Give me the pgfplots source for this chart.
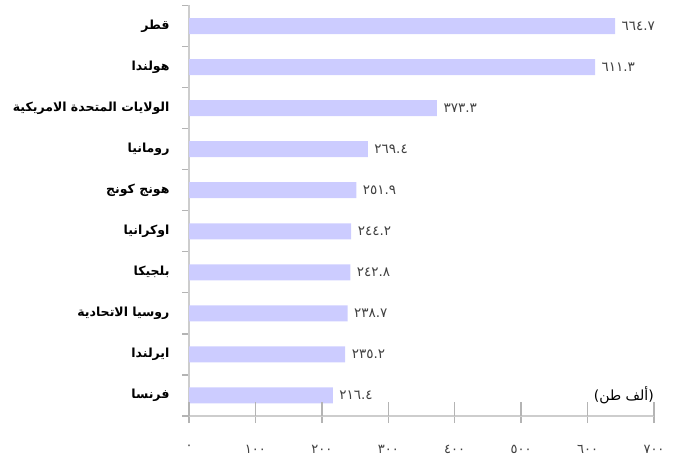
\documentclass[border=0pt]{standalone}
\usepackage{fontspec}
\usepackage{pgfplots}
\usepackage{pgfplotstable}
\pgfplotsset{compat=1.18}
\TeXXeTstate=1
\setmainfont{DejaVu Sans}
\newfontfamily\arabicfont[Script=Arabic]{DejaVu Sans}
\newfontfamily\plainfont{DejaVu Sans}
\definecolor{barc}{RGB}{204,204,255}
\definecolor{axc}{RGB}{205,205,205}
\definecolor{tkc}{RGB}{180,180,180}
\definecolor{valc}{RGB}{64,64,64}

\pgfplotstableread{
y x lab
9 641.5 ٦٦٤.٧
8 611.3 ٦١١.٣
7 373.3 ٣٧٣.٣
6 269.4 ٢٦٩.٤
5 251.9 ٢٥١.٩
4 244.2 ٢٤٤.٢
3 242.8 ٢٤٢.٨
2 238.7 ٢٣٨.٧
1 235.2 ٢٣٥.٢
0 216.4 ٢١٦.٤
}\datatable

\begin{document}
\begin{tikzpicture}
\useasboundingbox (0,0) rectangle (676pt,463pt);
\begin{axis}[
  at={(189pt,47pt)}, anchor=south west,
  scale only axis, width=465pt, height=410.5pt,
  xmin=0, xmax=700, ymin=-0.5, ymax=9.5,
  axis x line=bottom, axis y line=left,
  axis line style={-, draw=axc, line width=1.6pt},
  clip=false,
  tick align=outside,
  major tick length=7pt,
  tick style={draw=tkc, line width=1.3pt},
  xtick={0,100,...,700},
  xticklabels={٠,١٠٠,٢٠٠,٣٠٠,٤٠٠,٥٠٠,٦٠٠,٧٠٠},
  xticklabel style={font=\arabicfont\fontsize{13}{15}\selectfont, text=valc, yshift=-19pt},
  ytick={-0.5,0.5,...,9.5},
  yticklabels={},
  extra y ticks={0,...,9},
  extra y tick labels={
    {\beginR فرنسا\endR},
    {\beginR ايرلندا\endR},
    {\beginR روسيا الاتحادية\endR},
    {\beginR بلجيكا\endR},
    {\beginR اوكرانيا\endR},
    {\beginR هونج كونج\endR},
    {\beginR رومانيا\endR},
    {\beginR الولايات المتحدة الامريكية\endR},
    {\beginR هولندا\endR},
    {\beginR قطر\endR}},
  extra y tick style={tick style={draw=none},
    yticklabel style={font=\arabicfont\bfseries\fontsize{12.5}{14}\selectfont, anchor=east, xshift=-9pt}},
]
\addplot[xbar, fill=barc, draw=none, bar width=16pt,
  nodes near coords, point meta=explicit symbolic,
  nodes near coords style={anchor=west, font=\arabicfont\fontsize{13.5}{15}\selectfont, text=valc, xshift=3pt}]
  table[x=x, y=y, meta=lab]{\datatable};
\pgfplotsinvokeforeach{0,100,200,300,400,500,600,700}{
  \draw[tkc, line width=1.3pt] (axis cs:#1,-0.5) -- ++(0,-7pt);
}
\node[anchor=east, inner sep=0pt, font=\fontsize{14}{16}\selectfont] at (axis cs:700,0) {\plainfont(\arabicfont\beginR ألف طن\endR\plainfont)};
\end{axis}
\end{tikzpicture}
\end{document}
